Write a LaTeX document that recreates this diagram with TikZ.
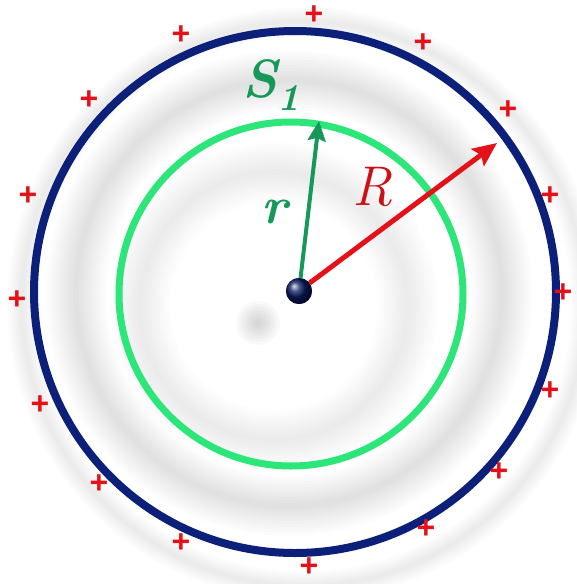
\documentclass[tikz,border=0pt]{standalone}
\usepackage{fontspec}
\newfontfamily\signfont{Liberation Sans}
\usetikzlibrary{arrows.meta}

\definecolor{shellblue}{RGB}{12,32,122}
\definecolor{gaussgreen}{RGB}{44,230,122}
\definecolor{labelgreen}{RGB}{22,152,88}
\definecolor{chargered}{RGB}{228,18,24}

\begin{document}
\begin{tikzpicture}[x=1pt, y=-1pt,
    glow/.style={black, opacity=0.011},
    charge/.style={text=chargered, inner sep=0pt, font=\fontsize{32}{32}\selectfont\signfont\bfseries},
    lbl/.style={inner sep=0pt, font=\fontsize{54}{54}\selectfont\rmfamily\itshape}]
    \useasboundingbox (0,0) rectangle (577,584);

    % soft grey rings behind the shells
    \foreach \w in {6,12,...,60} {
        \draw[glow, opacity=0.008, line width=\w] (274,306) circle (134);
        \draw[glow, line width=\w] (289,293) circle (213);
        \draw[glow, opacity=0.006, line width=0.5*\w] (304,304) circle (282);
    }
    \foreach \s in {4,7,...,22}
        \fill[glow, opacity=0.025] (258,323) circle (\s);

    % shells
    \draw[shellblue, line width=8] (295,292) circle (261);
    \draw[gaussgreen, line width=7] (291,294) circle (172);

    % point charge and radii
    \node (q) at (299,291) [circle, inner sep=0pt, minimum size=26, ball color=shellblue] {};
    \coordinate (rtip) at (319,121);
    \coordinate (Rtip) at (497,143);
    \draw[labelgreen, line width=4, -{Stealth[length=20, width=18, inset=3]}] (q) -- (rtip);
    \draw[chargered, line width=5, -{Stealth[length=24, width=21, inset=4]}] (q) -- (Rtip);
    \node (q) at (299,291) [circle, inner sep=0pt, minimum size=26, ball color=shellblue!80!black] {};

    \node (s1_label) at (242,97) [lbl, anchor=base west, text=labelgreen] {\bfseries S\raisebox{-13pt}{\fontsize{38}{38}\selectfont 1}};
    \node (r_label) at (261,223) [lbl, anchor=base west, text=labelgreen, font=\fontsize{52}{52}\selectfont\rmfamily\bfseries\itshape] {r};
    \node (R_label) at (352,205) [lbl, anchor=base west, text=chargered!90!black, font=\fontsize{56}{56}\selectfont\rmfamily\itshape] {R};

    % surface charges
    \foreach \x/\y [count=\i] in {314/15, 423/43, 508/110, 550/196, 563/293, 550/391,
                                  499/472, 426/529, 309/567, 181/543, 99/484, 40/405,
                                  17/300, 28/196, 89/100, 181/35}
        \node[charge] (c\i) at (\x,\y) {+};
\end{tikzpicture}
\end{document}
